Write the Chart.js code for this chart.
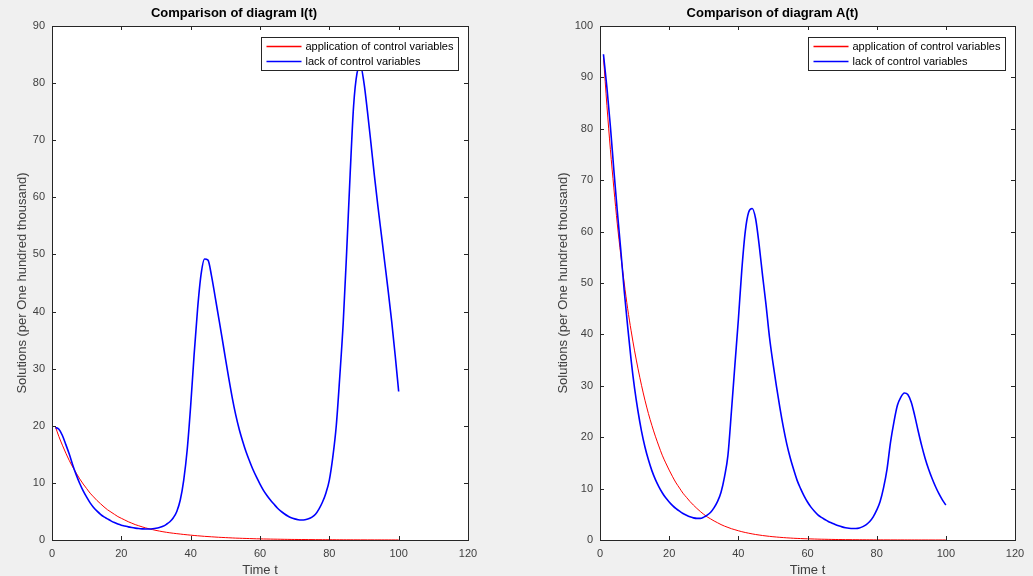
<!DOCTYPE html>
<html><head><meta charset="utf-8">
<script src="https://cdn.jsdelivr.net/npm/chart.js@4.4.0/dist/chart.umd.min.js"></script>
<style>
html,body{margin:0;padding:0;background:#f0f0f0;width:1033px;height:576px;overflow:hidden;}
canvas{position:absolute;top:0;}
#c1{left:0;}
#c2{left:530px;}
</style></head><body>
<canvas id="c1" width="530" height="576"></canvas>
<canvas id="c2" width="503" height="576"></canvas>
<script>
const timeT = [1,2,3,4,5,6,7,8,9,10,11,12,13,14,15,16,17,18,19,20,21,22,23,24,25,26,27,28,29,30,31,32,33,34,35,36,37,38,39,40,41,42,43,44,45,46,47,48,49,50,51,52,53,54,55,56,57,58,59,60,61,62,63,64,65,66,67,68,69,70,71,72,73,74,75,76,77,78,79,80,81,82,83,84,85,86,87,88,89,90,91,92,93,94,95,96,97,98,99,100];

const controlI = [19.8,18.1,16.6,15.2,13.9,12.75,11.7,10.7,9.8,9.0,8.2,7.55,6.9,6.35,5.8,5.3,4.9,4.5,4.1,3.8,3.5,3.2,2.95,2.7,2.5,2.3,2.12,1.96,1.82,1.68,1.56,1.45,1.35,1.26,1.18,1.11,1.04,0.97,0.91,0.85,0.79,0.74,0.69,0.64,0.6,0.56,0.52,0.48,0.45,0.42,0.39,0.36,0.33,0.31,0.29,0.27,0.25,0.23,0.21,0.2,0.18,0.17,0.16,0.15,0.14,0.13,0.12,0.11,0.1,0.095,0.09,0.085,0.08,0.075,0.07,0.065,0.06,0.055,0.05,0.047,0.044,0.041,0.038,0.035,0.033,0.031,0.029,0.027,0.025,0.023,0.021,0.02,0.019,0.018,0.017,0.016,0.015,0.014,0.013,0.012];

const lackI = [19.7,19.4,18.3,16.7,15.0,13.1,11.4,9.9,8.6,7.5,6.5,5.7,5.05,4.5,4.05,3.7,3.35,3.05,2.8,2.6,2.45,2.3,2.18,2.08,2.0,1.95,1.92,1.93,1.97,2.05,2.2,2.4,2.75,3.2,3.9,5.0,7.0,10.5,15.8,23.5,32.5,40.5,46.5,49.2,49.0,46.3,42.8,39.2,35.6,31.9,28.3,24.9,21.9,19.4,17.3,15.4,13.8,12.3,11.0,9.8,8.7,7.8,7.0,6.3,5.6,5.05,4.6,4.2,3.9,3.7,3.55,3.5,3.55,3.7,4.0,4.5,5.4,6.6,8.2,10.5,14.5,20.0,28.5,38.0,50.5,64.0,76.0,81.8,83.0,80.0,75.0,69.5,63.8,58.5,53.5,48.5,43.5,38.2,32.3,26.0];

const controlA = [94,84.5,76,68.5,61.5,55.5,50,45,40.7,36.8,33.3,30.1,27.2,24.6,22.3,20.2,18.3,16.5,15.0,13.6,12.3,11.1,10.1,9.1,8.3,7.5,6.8,6.15,5.55,5.0,4.5,4.1,3.7,3.35,3.0,2.7,2.45,2.2,2.0,1.8,1.62,1.46,1.32,1.19,1.07,0.97,0.87,0.79,0.71,0.64,0.58,0.52,0.47,0.42,0.38,0.34,0.31,0.28,0.25,0.23,0.21,0.19,0.17,0.155,0.14,0.125,0.113,0.1,0.092,0.083,0.075,0.068,0.061,0.055,0.05,0.045,0.04,0.037,0.033,0.03,0.027,0.024,0.022,0.02,0.018,0.016,0.015,0.013,0.012,0.011,0.01,0.009,0.008,0.007,0.0065,0.006,0.0055,0.005,0.0045,0.004];

const lackA = [94.5,88.0,80.5,72.0,64.0,56.5,48.5,41.5,35.0,29.5,25.0,21.2,18.1,15.6,13.5,11.8,10.4,9.2,8.2,7.4,6.7,6.1,5.6,5.15,4.8,4.5,4.3,4.2,4.2,4.45,4.85,5.4,6.3,7.5,9.3,12.3,16.5,25.0,34.0,42.8,52.5,60.0,63.8,64.5,62.5,57.5,51.5,45.8,39.5,34.5,30.0,25.8,22.0,18.7,16.0,13.7,11.6,10.0,8.6,7.4,6.4,5.6,4.9,4.4,4.0,3.6,3.3,3.0,2.75,2.55,2.4,2.3,2.25,2.25,2.35,2.6,3.0,3.6,4.5,5.8,7.5,10.2,13.8,19.0,23.0,26.2,27.8,28.6,28.3,26.8,24.2,21.2,18.4,15.9,13.8,12.0,10.4,9.0,7.8,6.8];

const seriesLabels = ['application of control variables', 'lack of control variables'];
const chartTitles = ['Comparison of diagram I(t)', 'Comparison of diagram A(t)'];
const xAxisTitle = 'Time t';
const yAxisTitle = 'Solutions (per One hundred thousand)';

const FONT = '"Liberation Sans", Arial, Helvetica, sans-serif';
const AXIS_COLOR = '#262626';
const TEXT_COLOR = '#404040';

const matlabAxes = {
  id: 'matlabAxes',
  beforeDatasetsDraw(chart) {
    const ctx = chart.ctx, a = chart.chartArea;
    ctx.save();
    ctx.fillStyle = '#ffffff';
    ctx.fillRect(a.left, a.top, a.right - a.left, a.bottom - a.top);
    ctx.restore();
  },
  afterDatasetsDraw(chart) {
    const ctx = chart.ctx, a = chart.chartArea;
    const xs = chart.scales.x, ys = chart.scales.y;
    const tl = 4;
    ctx.save();
    ctx.strokeStyle = AXIS_COLOR;
    ctx.lineWidth = 1;
    ctx.beginPath();
    xs.ticks.forEach(t => {
      const px = Math.round(xs.getPixelForValue(t.value)) + 0.5;
      ctx.moveTo(px, a.bottom); ctx.lineTo(px, a.bottom - tl);
      ctx.moveTo(px, a.top); ctx.lineTo(px, a.top + tl);
    });
    ys.ticks.forEach(t => {
      const py = Math.round(ys.getPixelForValue(t.value)) + 0.5;
      ctx.moveTo(a.left, py); ctx.lineTo(a.left + tl, py);
      ctx.moveTo(a.right, py); ctx.lineTo(a.right - tl, py);
    });
    ctx.stroke();
    ctx.strokeRect(Math.round(a.left) + 0.5, Math.round(a.top) + 0.5,
                   Math.round(a.right - a.left), Math.round(a.bottom - a.top));
    ctx.restore();
  }
};

const matlabLegend = {
  id: 'matlabLegend',
  afterDatasetsDraw(chart) {
    const ctx = chart.ctx, a = chart.chartArea;
    const items = chart.data.datasets;
    ctx.save();
    ctx.font = '11px ' + FONT;
    const padL = 5, lineLen = 35, gap = 4, padR = 5, rowH = 15, padV = 1.5;
    let maxW = 0;
    items.forEach(d => { maxW = Math.max(maxW, ctx.measureText(d.label).width); });
    const w = Math.round(padL + lineLen + gap + maxW + padR);
    const h = Math.round(padV * 2 + rowH * items.length);
    const x = Math.round(a.right - 10 - w) + 0.5;
    const y = Math.round(a.top + 11) + 0.5;
    ctx.fillStyle = '#ffffff';
    ctx.fillRect(x, y, w, h);
    ctx.strokeStyle = AXIS_COLOR;
    ctx.lineWidth = 1;
    ctx.strokeRect(x, y, w, h);
    items.forEach((d, i) => {
      const cy = y + padV + rowH * i + rowH / 2;
      ctx.beginPath();
      ctx.strokeStyle = d.borderColor;
      ctx.lineWidth = 1.5;
      ctx.moveTo(x + padL, cy); ctx.lineTo(x + padL + lineLen, cy);
      ctx.stroke();
      ctx.fillStyle = '#000000';
      ctx.textBaseline = 'middle';
      ctx.textAlign = 'left';
      ctx.fillText(d.label, x + padL + lineLen + gap, cy);
    });
    ctx.restore();
  }
};

function pts(ts, vs) { return ts.map((t, i) => ({ x: t, y: vs[i] })); }

function makeChart(id, title, control, lack, yMax, yWidth, rightPad, yTitlePad) {
  return new Chart(document.getElementById(id), {
    type: 'line',
    data: {
      datasets: [
        { label: seriesLabels[0], data: pts(timeT, control), borderColor: '#ff0000', borderWidth: 1,
          pointRadius: 0, cubicInterpolationMode: 'monotone', fill: false, order: 1 },
        { label: seriesLabels[1], data: pts(timeT, lack), borderColor: '#0000ff', borderWidth: 1.6,
          pointRadius: 0, cubicInterpolationMode: 'monotone', fill: false, order: 0 }
      ]
    },
    options: {
      responsive: false,
      animation: false,
      events: [],
      layout: { padding: { left: 0, right: rightPad, top: 0, bottom: 0 } },
      plugins: {
        legend: { display: false },
        tooltip: { enabled: false },
        title: { display: true, text: title, color: '#000000',
                 font: { family: FONT, size: 13, weight: 'bold', lineHeight: 1.2 },
                 padding: { top: 6, bottom: 4.4 } }
      },
      scales: {
        x: {
          type: 'linear', min: 0, max: 120,
          ticks: { stepSize: 20, color: TEXT_COLOR, font: { family: FONT, size: 11 }, padding: 7, maxRotation: 0 },
          grid: { display: false, drawTicks: false },
          border: { display: false },
          title: { display: true, text: xAxisTitle, color: TEXT_COLOR,
                   font: { family: FONT, size: 13, lineHeight: 1 }, padding: { top: 0, bottom: -1 } },
          afterFit(s) { s.height = 36; }
        },
        y: {
          type: 'linear', min: 0, max: yMax,
          ticks: { stepSize: 10, color: TEXT_COLOR, font: { family: FONT, size: 11 }, padding: 7 },
          grid: { display: false, drawTicks: false },
          border: { display: false },
          title: { display: true, text: yAxisTitle, color: TEXT_COLOR,
                   font: { family: FONT, size: 13, lineHeight: 1.2 }, padding: { top: yTitlePad, bottom: 0 } },
          afterFit(s) { s.width = yWidth; }
        }
      }
    },
    plugins: [matlabAxes, matlabLegend]
  });
}

makeChart('c1', chartTitles[0], controlI, lackI, 90, 52, 62, 15);
makeChart('c2', chartTitles[1], controlA, lackA, 100, 70, 18, 26);
</script>
</body></html>
